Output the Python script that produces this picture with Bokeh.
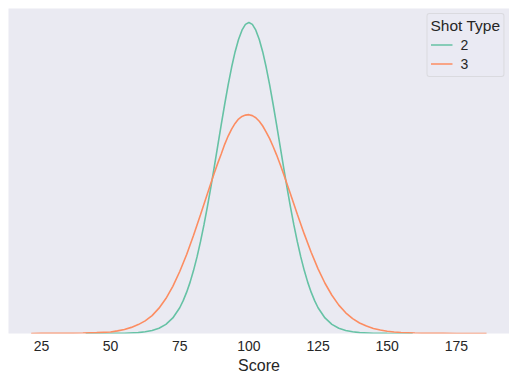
from bokeh.plotting import figure
from bokeh.models import FixedTicker, Legend, LegendItem, Range1d
from bokeh.embed import file_html
from bokeh.resources import INLINE

# Shot type 2 density curve
x_two = [41.0, 45, 50, 55, 60, 62.5, 65, 67.5, 70, 72.5, 75, 76.25, 77.5, 78.75,
         80, 81.25, 82.5, 83.75, 85, 86.25, 87.5, 88.75, 90, 91.25, 92.5, 93.75,
         95, 96.25, 97.5, 98.75, 100, 101.25, 102.5, 103.75, 105, 106.25, 107.5,
         108.75, 110, 111.25, 112.5, 113.75, 115, 116.25, 117.5, 118.75, 120,
         121.25, 122.5, 123.75, 125, 127.5, 130, 132.5, 135, 137.5, 140, 145,
         150, 155, 159.2]
y_two = [0.0, 0.0, 0.00001, 0.00003, 0.0001, 0.0002, 0.00035, 0.0006, 0.00105,
         0.00178, 0.00295, 0.00376, 0.00473, 0.00588, 0.00723, 0.00877, 0.01051,
         0.01243, 0.01452, 0.01676, 0.0191, 0.0215, 0.0239, 0.02624, 0.02845,
         0.03047, 0.03223, 0.03366, 0.03472, 0.03538, 0.0356, 0.03538, 0.03472,
         0.03366, 0.03223, 0.03047, 0.02845, 0.02624, 0.0239, 0.0215, 0.0191,
         0.01676, 0.01452, 0.01243, 0.01051, 0.00877, 0.00723, 0.00588, 0.00473,
         0.00376, 0.00295, 0.00178, 0.00105, 0.0006, 0.00035, 0.0002, 0.0001,
         0.00003, 0.00001, 0.0, 0.0]

# Shot type 3 density curve
x_three = [21.3, 25, 30, 35, 40, 45, 50, 52.5, 55, 57.5, 60, 62.5, 65, 67.5, 70,
           72.5, 75, 77.5, 80, 82.5, 85, 86.25, 87.5, 88.75, 90, 91.25, 92.5,
           93.75, 95, 96.25, 97.5, 98.75, 100, 101.25, 102.5, 103.75, 105, 106.25,
           107.5, 108.75, 110, 111.25, 112.5, 113.75, 115, 117.5, 120, 122.5, 125,
           127.5, 130, 132.5, 135, 137.5, 140, 142.5, 145, 147.5, 150, 152.5, 155,
           160, 165, 170, 175, 180, 185.9]
y_three = [0.0, 0.00001, 0.00002, 0.00003, 0.00005, 0.0001, 0.00018, 0.0003,
           0.00046, 0.0007, 0.00102, 0.00145, 0.00205, 0.0029, 0.004, 0.0054,
           0.0071, 0.00905, 0.01125, 0.0136, 0.016, 0.0172, 0.01838, 0.0195,
           0.02055, 0.02165, 0.0226, 0.0234, 0.02405, 0.02455, 0.02485, 0.025,
           0.02505, 0.02494, 0.0247, 0.0243, 0.02375, 0.02305, 0.0223, 0.0214,
           0.02045, 0.0194, 0.0183, 0.01715, 0.016, 0.01365, 0.0114, 0.0093,
           0.0074, 0.00575, 0.00438, 0.00325, 0.00237, 0.0017, 0.0012, 0.00085,
           0.00058, 0.0004, 0.00026, 0.00017, 0.00011, 0.00005, 0.00002, 0.00001,
           0.0, 0.0, 0.0]

x_ticks = [25, 50, 75, 100, 125, 150, 175]
series_labels = ["2", "3"]
series_colors = ["#66c2a5", "#fc8d62"]
legend_title = "Shot Type"
x_label = "Score"

TEXT = "#262626"
FONT = "Liberation Sans"

p = figure(frame_width=501, frame_height=325, output_backend="svg",
           toolbar_location=None, x_range=Range1d(13.1, 194.2),
           y_range=Range1d(0, 0.0372))
p.min_border_left = 8
p.min_border_right = 0
p.min_border_top = 8
p.min_border_bottom = 0
p.background_fill_color = "#EAEAF2"
p.border_fill_color = "white"
p.outline_line_color = None
p.xgrid.grid_line_color = None
p.ygrid.grid_line_color = None
p.yaxis.visible = False

ax = p.xaxis[0]
ax.ticker = FixedTicker(ticks=x_ticks)
ax.axis_line_color = None
ax.major_tick_line_color = None
ax.minor_tick_line_color = None
ax.major_label_standoff = 1
ax.major_label_text_font = FONT
ax.major_label_text_font_size = "14px"
ax.major_label_text_color = TEXT
ax.axis_label = x_label
ax.axis_label_text_font = FONT
ax.axis_label_text_font_size = "16px"
ax.axis_label_text_font_style = "normal"
ax.axis_label_text_color = TEXT
ax.axis_label_standoff = 3

r2 = p.line(x_two, y_two, line_color=series_colors[0], line_width=1.6)
r3 = p.line(x_three, y_three, line_color=series_colors[1], line_width=1.6)

legend = Legend(items=[LegendItem(label=series_labels[0], renderers=[r2]),
                       LegendItem(label=series_labels[1], renderers=[r3])],
                location="top_right", title=legend_title)
legend.margin = 5
legend.padding = 3
legend.spacing = 0
legend.title_text_font = FONT
legend.title_text_font_size = "15.5px"
legend.title_text_font_style = "normal"
legend.title_text_color = TEXT
legend.title_standoff = 0
legend.label_text_font = FONT
legend.label_text_font_size = "14px"
legend.label_text_color = TEXT
legend.glyph_width = 22
legend.glyph_height = 19
legend.label_height = 19
legend.label_standoff = 8
legend.background_fill_color = "#EAEAF2"
legend.background_fill_alpha = 0.8
legend.border_line_color = "#cccccc"
legend.border_line_width = 1
legend.border_radius = 3
p.add_layout(legend)

open("out.html", "w").write(file_html(p, INLINE))
